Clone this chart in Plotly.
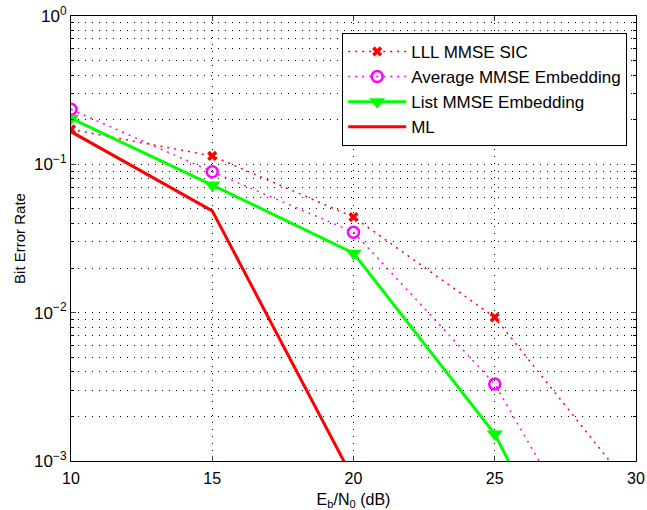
import plotly.graph_objects as go

snr = [10, 15, 20, 25, 30]
lll_sic = [0.172, 0.114, 0.0441, 0.0093, 0.00060]
avg_emb = [0.235, 0.0891, 0.0349, 0.0033, 0.000074]
list_emb = [0.204, 0.0725, 0.0252, 0.00152, 0.000021]
ml = [0.166, 0.0486, 0.00075]
ml_snr = [10, 15, 20]
x_ticks = [10, 15, 20, 25, 30]
y_tickvals = [1, 0.1, 0.01, 0.001]
y_ticktext = ["10<sup>0</sup>", "10<sup>−1</sup>", "10<sup>−2</sup>", "10<sup>−3</sup>"]
y_minor = [m * d for d in (0.001, 0.01, 0.1) for m in range(2, 10)]

fig = go.Figure()
fig.add_trace(go.Scatter(x=snr, y=lll_sic, name="LLL MMSE SIC", mode="lines+markers",
                         line=dict(color="red", width=1.5, dash="2px,5px"),
                         marker=dict(symbol="x", size=9, color="red")))
fig.add_trace(go.Scatter(x=snr, y=avg_emb, name="Average MMSE Embedding", mode="lines+markers",
                         line=dict(color="magenta", width=1.5, dash="2px,5px"),
                         marker=dict(symbol="circle-open", size=11, color="magenta", line=dict(width=2.5))))
fig.add_trace(go.Scatter(x=snr, y=list_emb, name="List MMSE Embedding", mode="lines+markers",
                         line=dict(color="#00ff00", width=3),
                         marker=dict(symbol="triangle-down", size=14, color="#00ff00")))
fig.add_trace(go.Scatter(x=ml_snr, y=ml, name="ML", mode="lines",
                         line=dict(color="red", width=3)))

grid = dict(showgrid=True, gridcolor="black", griddash="1px,6px", gridwidth=1)
fig.update_layout(
    width=647, height=510,
    margin=dict(l=71, r=11, t=16, b=49),
    paper_bgcolor="white", plot_bgcolor="white",
    font=dict(family="Liberation Sans, Arial, sans-serif", size=15, color="black"),
    showlegend=True,
    legend=dict(x=0.48, y=0.962, xanchor="left", yanchor="top",
                bgcolor="white", bordercolor="black", borderwidth=1,
                itemwidth=58, font=dict(size=17)),
)
fig.update_xaxes(range=[10, 30], tickvals=x_ticks, automargin=False, ticklabeloverflow="allow",
                 showline=True, linecolor="black", linewidth=1, mirror="ticks",
                 ticks="inside", ticklen=5, zeroline=False, tickfont=dict(size=16), ticklabelstandoff=3,
                 title=dict(text="E<sub>b</sub>/N<sub>0</sub> (dB)", font=dict(size=16), standoff=9),
                 **grid)
fig.update_yaxes(type="log", range=[-3, 0], tickvals=y_tickvals, ticktext=y_ticktext, automargin=False,
                 ticklabeloverflow="allow",
                 showline=True, linecolor="black", linewidth=1, mirror="ticks",
                 ticks="inside", ticklen=5, zeroline=False, tickfont=dict(size=17),
                 title=dict(text="Bit Error Rate", font=dict(size=15), standoff=4),
                 minor=dict(tickvals=y_minor, showgrid=True, gridcolor="black", griddash="1px,6px",
                            ticks="inside", ticklen=3, tickcolor="black"),
                 **grid)
fig.write_html("out.html", config={"displayModeBar": False},
               post_script="document.body.style.margin='0';document.body.style.overflow='hidden';")
